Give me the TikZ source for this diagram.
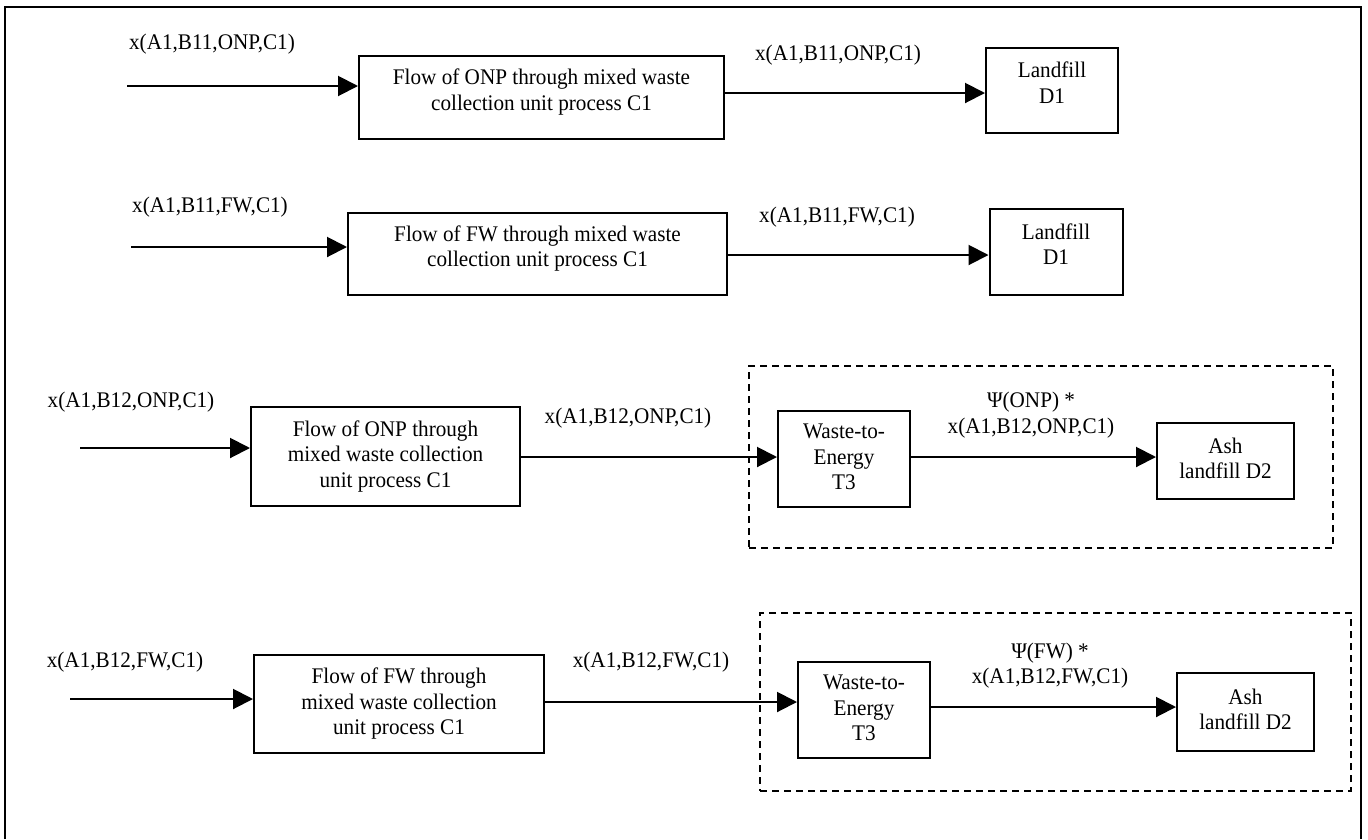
\documentclass[tikz,border=0pt]{standalone}
\usepackage{fontspec}
\setmainfont[FakeStretch=0.95]{Liberation Serif}
\usetikzlibrary{arrows.meta}
% centred multi-line text; \liftup raises it a little inside its box
\newcommand\cellstack[1]{\begin{tabular}{@{}c@{}}#1\end{tabular}}
\newcommand\liftup[1]{\raisebox{5pt}[\height][\depth]{\cellstack{#1}}}
\begin{document}
\begin{tikzpicture}[x=1pt,y=-1pt,
  every node/.style={font=\fontsize{22.3pt}{25.5pt}\selectfont, inner sep=0pt},
  unit/.style={draw, line width=2pt},
  flow/.style={line width=2pt, -{Triangle[length=20pt,width=20pt]}},
  group/.style={draw, line width=1.5pt, dash pattern=on 7pt off 5pt},
  frame/.style={line width=2pt}]
\useasboundingbox (0,0) rectangle (1368,839);

% outer frame
\draw[frame] (5,839) -- (5,7) -- (1361,7) -- (1361,839);

% ---------- ONP, B11 ----------
\node (l1in) at (212,44) {x(A1,B11,ONP,C1)};
\node[unit, minimum width=365pt, minimum height=83pt] (b1) at (541.5,97.5)
  {\liftup{Flow of ONP through mixed waste\\collection unit process C1}};
\node (l1out) at (838,55) {x(A1,B11,ONP,C1)};
\node[unit, minimum width=132pt, minimum height=85pt] (d1a) at (1052,90.5)
  {\liftup{Landfill\\D1}};
\coordinate (s1) at (127,86);
\coordinate (y1) at (0,93);
\draw[flow] (s1) -- (s1 -| b1.west);
\draw[flow] (b1.east |- y1) -- (d1a.west |- y1);

% ---------- FW, B11 ----------
\node (l2in) at (210,207) {x(A1,B11,FW,C1)};
\node[unit, minimum width=379pt, minimum height=82pt] (b2) at (537.5,254)
  {\liftup{Flow of FW through mixed waste\\collection unit process C1}};
\node (l2out) at (837,217) {x(A1,B11,FW,C1)};
\node[unit, minimum width=133pt, minimum height=86pt] (d1b) at (1056,252)
  {\liftup{Landfill\\D1}};
\coordinate (s2) at (131,247);
\coordinate (y2) at (0,255);
\draw[flow] (s2) -- (s2 -| b2.west);
\draw[flow] (b2.east |- y2) -- (d1b.west |- y2);

% ---------- ONP, B12 ----------
\node[group, minimum width=584pt, minimum height=182pt] (g3) at (1041,457) {};
\node (l3in) at (131,402) {x(A1,B12,ONP,C1)};
\node[unit, minimum width=269pt, minimum height=99pt] (b3) at (385.5,456.5)
  {\cellstack{Flow of ONP through\\mixed waste collection\\unit process C1}};
\node (l3mid) at (628,418) {x(A1,B12,ONP,C1)};
\node[unit, minimum width=132pt, minimum height=96pt] (t3a) at (844,459)
  {\cellstack{Waste-to-\\Energy\\T3}};
\node (l3out) at (1031,415.5) {\cellstack{Ψ(ONP) *\\x(A1,B12,ONP,C1)}};
\node[unit, minimum width=137pt, minimum height=76pt] (d2a) at (1225.5,461)
  {\cellstack{Ash\\landfill D2}};
\coordinate (s3) at (80,448);
\coordinate (y3) at (0,457);
\draw[flow] (s3) -- (s3 -| b3.west);
\draw[flow] (b3.east |- y3) -- (t3a.west |- y3);
\draw[flow] (t3a.east |- y3) -- (d2a.west |- y3);

% ---------- FW, B12 ----------
\node[group, minimum width=591pt, minimum height=178pt] (g4) at (1055.5,702) {};
\node (l4in) at (125,662) {x(A1,B12,FW,C1)};
\node[unit, minimum width=290pt, minimum height=98pt] (b4) at (399,704)
  {\cellstack{Flow of FW through\\mixed waste collection\\unit process C1}};
\node (l4mid) at (651,662) {x(A1,B12,FW,C1)};
\node[unit, minimum width=132pt, minimum height=96pt] (t3b) at (864,710)
  {\cellstack{Waste-to-\\Energy\\T3}};
\node (l4out) at (1050,666) {\cellstack{Ψ(FW) *\\x(A1,B12,FW,C1)}};
\node[unit, minimum width=137pt, minimum height=78pt] (d2b) at (1245.5,712)
  {\cellstack{Ash\\landfill D2}};
\coordinate (s4) at (70,699);
\coordinate (y4a) at (0,702);
\coordinate (y4b) at (0,707);
\draw[flow] (s4) -- (s4 -| b4.west);
\draw[flow] (b4.east |- y4a) -- (t3b.west |- y4a);
\draw[flow] (t3b.east |- y4b) -- (d2b.west |- y4b);
\end{tikzpicture}
\end{document}
